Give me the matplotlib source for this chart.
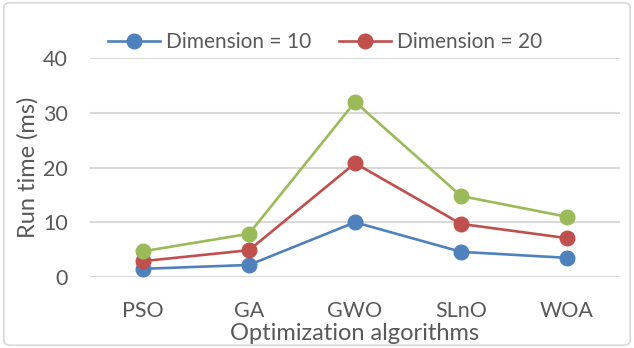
import matplotlib.pyplot as plt
from matplotlib.patches import FancyBboxPatch

algorithms = ['PSO', 'GA', 'GWO', 'SLnO', 'WOA']
dim10 = [1.5, 2.2, 10.0, 4.6, 3.5]
dim20 = [2.9, 4.9, 20.8, 9.7, 7.1]
dim30 = [4.7, 7.9, 32.0, 14.8, 11.0]

plt.rcParams['font.family'] = ['Lato', 'DejaVu Sans']
text_col = '#595959'

fig = plt.figure(figsize=(6.34, 3.48), dpi=100)
ax = fig.add_axes([0.142, 0.204, 0.836, 0.629])

x = range(len(algorithms))
l1, = ax.plot(x, dim10, '-o', color='#4F81BD', lw=1.9, ms=10.5, label='Dimension = 10', zorder=3)
l2, = ax.plot(x, dim20, '-o', color='#C0504D', lw=1.9, ms=10.5, label='Dimension = 20', zorder=3)
ax.plot(x, dim30, '-o', color='#9BBB59', lw=1.9, ms=10.5, zorder=3)

ax.set_xlim(-0.5, len(algorithms) - 0.5)
ax.set_ylim(0, 40)
ax.set_yticks([0, 10, 20, 30, 40])
ax.set_xticks(list(x))
ax.set_xticklabels(algorithms)
ax.grid(axis='y', color='#D9D9D9', lw=1.5)
ax.set_axisbelow(True)
for s in ax.spines.values():
    s.set_visible(False)
ax.tick_params(length=0, labelsize=15.5, colors=text_col)
ax.tick_params(axis='y', pad=16)
ax.tick_params(axis='x', pad=17)
ax.set_ylabel('Run time (ms)', fontsize=17, color=text_col, labelpad=3)
ax.set_xlabel('Optimization algorithms', fontsize=17, color=text_col, labelpad=2)

fig.legend(handles=[l1, l2], loc='center left', bbox_to_anchor=(0.141, 0.879),
           ncol=2, frameon=False, fontsize=15, labelcolor=text_col,
           handlelength=2.5, columnspacing=1.3, handletextpad=0.3)

border = FancyBboxPatch((0.006, 0.008), 0.988, 0.984, boxstyle='round,pad=0,rounding_size=0.012',
                        transform=fig.transFigure, fill=False, edgecolor='#D9D9D9', lw=1.2)
fig.patches.append(border)

fig.savefig('out.png', dpi=100)
